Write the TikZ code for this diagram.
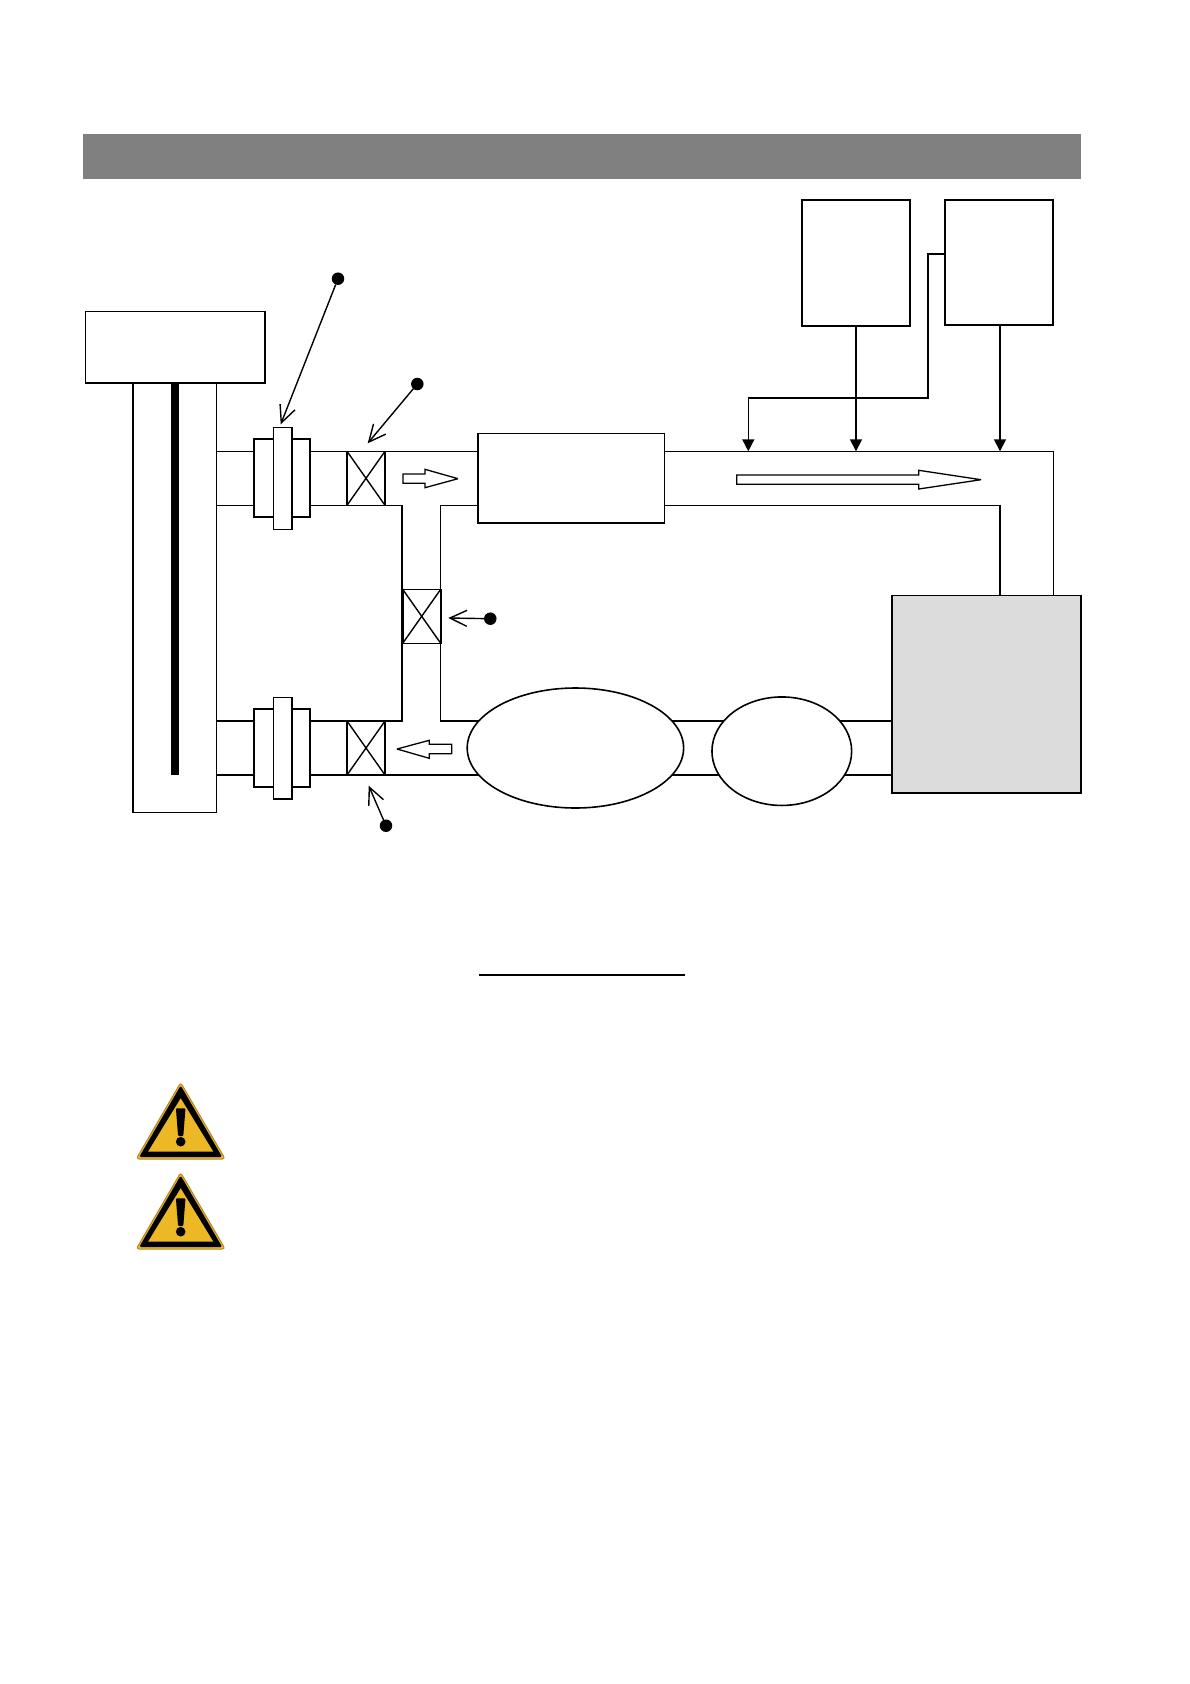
\documentclass[tikz,border=0pt]{standalone}
\usetikzlibrary{arrows.meta,shapes.geometric}
\definecolor{bandgray}{HTML}{808080}
\definecolor{tankgray}{HTML}{DCDCDC}
\definecolor{signgold}{HTML}{EDB825}
\definecolor{signedge}{HTML}{B08A2A}
\newcommand{\bx}[6][]{%
  \pgfmathsetmacro{\bxw}{#5-#3}\pgfmathsetmacro{\bxh}{#6-#4}%
  \pgfmathsetmacro{\bxx}{(#5+#3)/2}\pgfmathsetmacro{\bxy}{(#6+#4)/2}%
  \node[part,#1,minimum width=\bxw pt,minimum height=\bxh pt] (#2) at (\bxx,\bxy) {};}
\tikzset{
  part/.style={draw=black,fill=white,rectangle,inner sep=0pt,outer sep=0pt,line width=1.6pt},
  wall/.style={draw=black,line width=1.4pt},
  heavywall/.style={draw=black,line width=1.9pt},
  pin/.style={circle,fill=black,draw=none,minimum size=12.5pt,inner sep=0pt,outer sep=0pt},
  leader/.style={draw=black,line width=1.4pt,-{Straight Barb[length=17pt,width=16pt,line width=1.4pt]}},
  feed/.style={draw=black,line width=1.6pt,-{Triangle[length=12pt,width=12pt]}},
  flow/.style={draw=black,fill=white,line width=1.3pt,line join=miter,miter limit=3},
  warnsign/.pic={
    \fill[signgold,draw=signedge,line width=1pt,rounded corners=3pt] (0,-1.5) -- (44.5,75) -- (-44.5,75) -- cycle;
    \fill[black,rounded corners=1.5pt] (0,1.5) -- (41.5,73) -- (-41.5,73) -- cycle;
    \fill[signgold] (0,14.3) -- (32.5,67.5) -- (-32.5,67.5) -- cycle;
    \fill[black,rounded corners=1pt] (-4.8,24.3) -- (4.8,24.3) -- (2.6,52) -- (-2.6,52) -- cycle;
    \fill[black] (0,57.7) circle (4.8);
  }
}
\begin{document}
\begin{tikzpicture}[x=1pt,y=-1pt]
\useasboundingbox (0,0) rectangle (1190,1684);
\fill[white] (0,0) rectangle (1190,1684);

% header band
\bx[fill=bandgray,draw=none]{band}{83}{134}{1081}{179}

% column under head box
\bx{column}{133}{383}{216.3}{812.3}
\bx{head}{85.3}{311.3}{265}{383}
\bx[fill=black,draw=none]{rod}{171}{383}{179}{775}

% pipe walls
\draw[wall] (216.3,451.3) -- (477.7,451.3);
\draw[wall] (216.3,505.3) -- (401.7,505.3);
\draw[heavywall] (401.7,505.3) -- (401.7,721);
\draw[wall] (477.7,505.3) -- (440.7,505.3) -- (440.7,721);
\draw[heavywall] (216.3,775) -- (480,775);
\draw[heavywall] (216.3,721) -- (402.6,721);
\draw[heavywall] (440,721) -- (480,721);
\draw[heavywall] (670,721) -- (892,721);
\draw[heavywall] (670,775) -- (892,775);
\draw[wall] (664.3,451.3) -- (1053.7,451.3) -- (1053.7,595.5);
\draw[wall] (664.3,505.3) -- (1000,505.3);
\draw[heavywall] (1000,505.3) -- (1000,595.5);

% couplings
\bx[line width=1.9pt]{cplupper}{253.7}{439.3}{310.3}{517.3}
\bx{cplupperin}{273.3}{427.3}{291.7}{529.3}
\bx[line width=1.9pt]{cpllower}{253.7}{708.7}{310.3}{787.3}
\bx{cpllowerin}{273.3}{697.3}{291.7}{799}

% valves
\bx{valveA}{347}{451.3}{385}{505.3}
\bx{valveB}{402.7}{589.3}{440.7}{643.3}
\bx{valveC}{347}{721}{385}{775}
\foreach \v in {valveA,valveB,valveC}{
  \draw[wall] (\v.north west) -- (\v.south east);
  \draw[wall] (\v.north east) -- (\v.south west);
}

% main units
\bx{unit}{477.7}{433.3}{664.3}{523}
\node[part,ellipse,minimum width=216.4pt,minimum height=120pt] (pumpbig) at (575.4,748) {};
\node[part,ellipse,minimum width=139.7pt,minimum height=108.5pt] (pumpsmall) at (781.8,751.2) {};
\bx[fill=tankgray]{tank}{892}{595.5}{1081}{793}

% top boxes
\bx[line width=2pt]{boxA}{801.7}{200}{910}{326}
\bx[line width=1.8pt]{boxB}{945}{200}{1053.3}{325.3}

% feed lines
\coordinate (inA) at (748.3,451.3);
\coordinate (inB) at (856,451.3);
\coordinate (inC) at (1000,451.3);
\coordinate (outB) at (945,253.7);
\draw[feed] (boxA.south -| inB) -- (inB);
\draw[feed] (boxB.south -| inC) -- (inC);
\draw[feed] (outB) -- (928,253.7) -- (928,397.7) -- (748.3,397.7) -- (inA);

% flow arrows
\draw[flow] (403,474) -- (425,474) -- (425,469.3) -- (458,478.7) -- (425,487.7) -- (425,483.3) -- (403,483.3) -- cycle;
\draw[flow] (451.7,744.3) -- (429.3,744.3) -- (429.3,740.3) -- (397,749) -- (429.3,758.3) -- (429.3,753.7) -- (451.7,753.7) -- cycle;
\draw[flow] (736.7,475) -- (918.7,475) -- (918.7,470.3) -- (981,479.7) -- (918.7,489) -- (918.7,484.3) -- (736.7,484.3) -- cycle;

% callout pins
\node[pin] (pinA) at (338,278.7) {};
\node[pin] (pinB) at (417.3,384) {};
\node[pin] (pinC) at (490.3,618.7) {};
\node[pin] (pinD) at (386,825.7) {};
\coordinate (tipA) at (280.7,424.3);
\coordinate (tipB) at (367.7,443.3);
\coordinate (tipC) at (448.3,618);
\coordinate (tipD) at (368.7,785.7);
\draw[leader] (pinA) -- (tipA);
\draw[leader] (pinB) -- (tipB);
\draw[leader] (pinC) -- (tipC);
\draw[leader] (pinD) -- (tipD);

% underline
\coordinate (ulA) at (479,975);
\coordinate (ulB) at (684.7,975);
\draw[wall] (ulA) -- (ulB);

% warning signs
\pic at (180.7,1084) {warnsign};
\pic at (180.7,1174) {warnsign};
\end{tikzpicture}
\end{document}
